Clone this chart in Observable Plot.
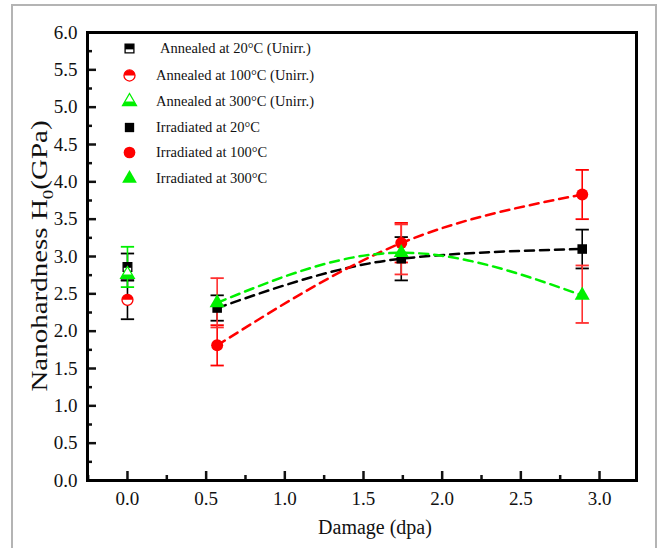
<!DOCTYPE html>
<html><head><meta charset="utf-8">
<script src="https://cdn.jsdelivr.net/npm/d3@7"></script>
<script src="https://cdn.jsdelivr.net/npm/@observablehq/plot@0.6"></script>
<style>
html,body{margin:0;padding:0;background:#fff;overflow:hidden;width:663px;height:548px}
#wrap{position:relative;width:663px;height:548px;overflow:hidden}
#border{position:absolute;left:11px;top:4px;width:646px;height:600px;border:2px solid #b4b4b4;box-sizing:border-box;pointer-events:none}
#chart{position:absolute;left:0;top:0}
#legend{position:absolute;left:0;top:0;font-family:"Liberation Serif","Times New Roman",serif;font-size:14.5px;color:#111}
.row{position:absolute;height:26px;line-height:26px;white-space:nowrap}
.row svg{position:absolute;left:-14px;top:4px}
</style></head><body><div id="wrap"><div id="border"></div><div id="chart"></div><div id="legend"></div></div>
<script>
// ---- data ----
const seriesNames = ["Annealed at 20°C (Unirr.)","Annealed at 100°C (Unirr.)","Annealed at 300°C (Unirr.)","Irradiated at 20°C","Irradiated at 100°C","Irradiated at 300°C"];
const annealedDamage = [0];
const ann20 = [2.86], ann20Lo = [2.68], ann20Hi = [3.04];
const ann100 = [2.42], ann100Lo = [2.16], ann100Hi = [2.68];
const ann300 = [2.76], ann300Lo = [2.59], ann300Hi = [3.13];
const damage = [0.57, 1.74, 2.89];
const irr20 = [2.31, 2.97, 3.10], irr20Lo = [2.14, 2.68, 2.84], irr20Hi = [2.48, 3.26, 3.36];
const irr100 = [1.81, 3.18, 3.83], irr100Lo = [1.54, 2.92, 3.50], irr100Hi = [2.08, 3.45, 4.16];
const irr300 = [2.38, 3.05, 2.48], irr300Lo = [2.05, 2.76, 2.11], irr300Hi = [2.71, 3.43, 2.88];
const xTicks = [0, 0.5, 1.0, 1.5, 2.0, 2.5, 3.0];
const xMinor = [-0.25, 0.25, 0.75, 1.25, 1.75, 2.25, 2.75];
const yTicks = [0, 0.5, 1.0, 1.5, 2.0, 2.5, 3.0, 3.5, 4.0, 4.5, 5.0, 5.5, 6.0];
const yMinor = [0.25, 0.75, 1.25, 1.75, 2.25, 2.75, 3.25, 3.75, 4.25, 4.75, 5.25, 5.75];

const RED = "#ff0000", GREEN = "#00f000", BLACK = "#000000";
const colors = [BLACK, RED, GREEN, BLACK, RED, GREEN];
const barColors = [BLACK, BLACK, GREEN, BLACK, RED, "#ff3030"];

function mk(series, xs, ys, lo, hi) {
  return xs.map((x, i) => ({series, x, y: ys[i], lo: lo[i], hi: hi[i]}));
}
const annealed = [
  ...mk(0, annealedDamage, ann20, ann20Lo, ann20Hi),
  ...mk(1, annealedDamage, ann100, ann100Lo, ann100Hi),
  ...mk(2, annealedDamage, ann300, ann300Lo, ann300Hi)
];
const irradiated = [
  ...mk(3, damage, irr20, irr20Lo, irr20Hi),
  ...mk(4, damage, irr100, irr100Lo, irr100Hi),
  ...mk(5, damage, irr300, irr300Lo, irr300Hi)
];
const all = [...annealed, ...irradiated];

// ---- custom symbols ----
const capSym = {draw(ctx, size) { const w = Math.sqrt(size); ctx.moveTo(-w / 2, 0); ctx.lineTo(w / 2, 0); }};
const halfSquare = {draw(ctx, size) { const w = Math.sqrt(size); ctx.rect(-w / 2, -w / 2, w, w * 0.6); }};
const halfCircle = {draw(ctx, size) { const r = Math.sqrt(size / Math.PI); ctx.moveTo(r, 0); ctx.arc(0, 0, r, 0, Math.PI, true); ctx.closePath(); }};
const halfTriangle = {draw(ctx, size) {
  const a = Math.sqrt(size / (Math.sqrt(3) * 3)), s3 = Math.sqrt(3);
  ctx.moveTo(-s3 * a, a); ctx.lineTo(s3 * a, a); ctx.lineTo(2 * a / s3, 0); ctx.lineTo(-2 * a / s3, 0); ctx.closePath();
}};
const shapes = ["square", "circle", "triangle"];
const halves = [halfSquare, halfCircle, halfTriangle];
const radii = [5.4, 6, 5.6];

const marks = [];
// fit lines
for (let s = 3; s < 6; s++) {
  marks.push(Plot.line(irradiated.filter(d => d.series === s), {
    x: "x", y: "y", stroke: colors[s], strokeWidth: 2.5, strokeDasharray: "9,6", curve: "monotone-x"
  }));
}
// error bars
for (let s = 0; s < 6; s++) {
  const d = all.filter(r => r.series === s);
  marks.push(Plot.ruleX(d, {x: "x", y1: "lo", y2: "hi", stroke: barColors[s], strokeWidth: 1.6}));
  marks.push(Plot.dot(d, {x: "x", y: "lo", symbol: capSym, r: 7.5, stroke: barColors[s], strokeWidth: 1.8}));
  marks.push(Plot.dot(d, {x: "x", y: "hi", symbol: capSym, r: 7.5, stroke: barColors[s], strokeWidth: 1.8}));
}
// annealed markers (half filled)
for (let s = 0; s < 3; s++) {
  const d = annealed.filter(r => r.series === s);
  marks.push(Plot.dot(d, {x: "x", y: "y", symbol: shapes[s], r: radii[s] - 0.5, fill: "white", stroke: colors[s], strokeWidth: 1.3}));
  marks.push(Plot.dot(d, {x: "x", y: "y", symbol: halves[s], r: radii[s] - 0.5, fill: colors[s]}));
}
// irradiated markers
for (let s = 3; s < 6; s++) {
  const d = irradiated.filter(r => r.series === s);
  marks.push(Plot.dot(d, {x: "x", y: "y", symbol: shapes[s - 3], r: radii[s - 3], fill: colors[s], stroke: "none"}));
}
// axes (inward ticks)
marks.push(Plot.axisY(yTicks, {anchor: "left", tickSize: -9, tickPadding: 19, strokeWidth: 2.5, tickFormat: d3.format(".1f"), label: null}));
marks.push(Plot.axisY(yMinor, {anchor: "left", tickSize: -5, tickPadding: 0, strokeWidth: 2.5, tickFormat: () => "", label: null}));
marks.push(Plot.axisX(xTicks, {anchor: "bottom", tickSize: -9, tickPadding: 20, strokeWidth: 2.5, tickFormat: d3.format(".1f"), label: null}));
marks.push(Plot.axisX(xMinor, {anchor: "bottom", tickSize: -5, tickPadding: 0, strokeWidth: 2.5, tickFormat: () => "", label: null}));
marks.push(Plot.frame({stroke: "black", strokeWidth: 3}));

const svg = Plot.plot({
  width: 663, height: 548,
  marginLeft: 87, marginRight: 27, marginTop: 32, marginBottom: 68,
  x: {domain: [-0.254, 3.235], axis: null},
  y: {domain: [0, 6], axis: null},
  style: {fontFamily: "'Liberation Serif','Times New Roman',serif", fontSize: "19px", background: "transparent", color: "#111"},
  marks
});
const sel = d3.select(svg);
sel.append("text").attr("x", 375).attr("y", 534).attr("text-anchor", "middle")
  .attr("font-size", 20).attr("fill", "#111").text("Damage (dpa)");
const yt = sel.append("text").attr("transform", "translate(47,256) rotate(-90) scale(1,0.8)").attr("text-anchor", "middle")
  .attr("font-size", 29).attr("fill", "#111");
yt.append("tspan").text("Nanohardness H");
yt.append("tspan").attr("dy", 7).attr("font-size", 19).text("0");
yt.append("tspan").attr("dy", -7).text("(GPa)");
document.getElementById("chart").appendChild(svg);

// ---- legend ----
const legendY = [48, 75, 101, 127, 152, 178];
const leg = d3.select("#legend");
seriesNames.forEach((name, i) => {
  const row = leg.append("div").attr("class", "row").style("top", (legendY[i] - 13) + "px").style("left", "143px");
  const sv = row.append("svg").attr("width", 20).attr("height", 18).style("left", "-23px");
  const g = sv.append("g").attr("transform", "translate(9.5,9.5)");
  const k = i % 3;
  const size = Math.PI * radii[k] * radii[k] * (i < 3 ? 0.85 : 0.95);
  const typ = [d3.symbolSquare, d3.symbolCircle, d3.symbolTriangle][k];
  if (i < 3) {
    g.append("path").attr("d", d3.symbol(typ, size)()).attr("fill", "white").attr("stroke", colors[i]).attr("stroke-width", 1.3);
    g.append("path").attr("d", d3.symbol(halves[k], size)()).attr("fill", colors[i]);
  } else {
    g.append("path").attr("d", d3.symbol(typ, size)()).attr("fill", colors[i]);
  }
  row.append("span").style("margin-left", (i === 0 ? 17 : 13) + "px").text(name);
});
</script></body></html>
